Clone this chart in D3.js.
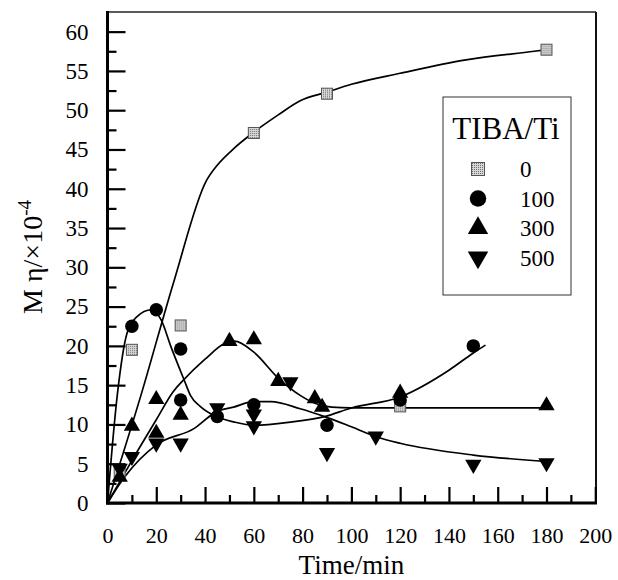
<!DOCTYPE html>
<html>
<head>
<meta charset="utf-8">
<script src="https://cdn.jsdelivr.net/npm/d3@7.9.0/dist/d3.min.js"></script>
<style>
  body { margin: 0; background: #fff; }
  svg { display: block; }
</style>
</head>
<body>
<svg id="chart" width="618" height="580"></svg>
<script>
// ----- data -----
const legendTitle = "TIBA/Ti";
const seriesNames = ["0", "100", "300", "500"];

// measured points
const s0x = [5, 10, 30, 60, 90, 120, 180];
const s0y = [4.0, 19.5, 22.6, 47.1, 52.1, 12.3, 57.7];
const s100x = [10, 20, 30, 30, 45, 60, 90, 120, 150];
const s100y = [22.5, 24.6, 19.6, 13.1, 11.0, 12.5, 9.9, 13.1, 20.0];
const s300x = [5, 10, 20, 20, 30, 50, 60, 70, 85, 88, 120, 180];
const s300y = [3.3, 9.8, 13.2, 8.9, 11.2, 20.6, 20.8, 15.5, 13.3, 12.2, 14.0, 12.4];
const s500x = [5, 10, 20, 30, 45, 60, 60, 75, 90, 110, 150, 180];
const s500y = [4.4, 5.9, 7.6, 7.6, 12.1, 11.3, 9.8, 15.4, 6.4, 8.5, 4.9, 5.1];

// fitted curves
const c0x = [0, 13.7, 27.4, 40.5, 45, 51, 60, 70, 79, 90, 100, 120, 147, 175, 180];
const c0y = [0, 13.7, 28.4, 41.0, 43.0, 44.9, 47.2, 49.4, 51.2, 52.3, 53.3, 54.7, 56.4, 57.5, 57.7];
const c100x = [0, 4, 8, 12, 18, 22, 26, 31.5, 34, 38, 44.6, 52, 60, 75, 89, 100, 120, 140, 150, 155];
const c100y = [0, 13.7, 21.6, 23.7, 24.6, 23.3, 19.9, 15.6, 13.7, 12.3, 11.0, 10.3, 9.9, 10.3, 11.0, 12.1, 13.5, 16.9, 19.1, 20.1];
const c300x = [0, 10, 20, 27, 31, 40, 48, 52, 60, 70, 79, 85, 92, 100, 120, 180];
const c300y = [0, 5.4, 10.6, 14.2, 15.6, 18.3, 20.3, 20.6, 19.2, 15.9, 13.7, 12.7, 12.2, 12.1, 12.1, 12.1];
const c500x = [0, 7, 20, 35.6, 44.6, 51.7, 60, 67, 79, 89, 100, 110.5, 120, 150, 180];
const c500y = [0, 3.3, 7.4, 9.5, 11.6, 12.2, 12.9, 12.9, 12.0, 11.0, 9.7, 8.4, 7.6, 6.1, 5.3];

const xTicks = d3.range(0, 201, 20);
const yTicks = d3.range(0, 61, 5);

// ----- layout -----
const L = 107.5, R = 596, T = 12, B = 503;
const FONT = "'Liberation Serif', 'Times New Roman', 'DejaVu Serif', serif";
const svg = d3.select("#chart");

const x = d3.scaleLinear().domain([0, 200.3]).range([L, R]);
const y = d3.scaleLinear().domain([0, 62.5]).range([B, T]);

// hatched grey fill for the square markers
const defs = svg.append("defs");
const pat = defs.append("pattern").attr("id", "hatch")
  .attr("width", 2).attr("height", 2).attr("patternUnits", "userSpaceOnUse");
pat.append("rect").attr("width", 2).attr("height", 2).attr("fill", "#d8d8d8");
pat.append("rect").attr("width", 1).attr("height", 1).attr("fill", "#707070");

// frame (top/right thinner)
svg.append("line").attr("x1", L).attr("x2", R).attr("y1", T).attr("y2", T)
  .attr("stroke", "#222").attr("stroke-width", 1.5);
svg.append("line").attr("x1", R).attr("x2", R).attr("y1", T).attr("y2", B)
  .attr("stroke", "#111").attr("stroke-width", 2);

// x axis: major + minor ticks pointing inward
const gx = svg.append("g").attr("transform", `translate(0,${B})`)
  .call(d3.axisBottom(x).tickValues(xTicks).tickSizeInner(-16).tickSizeOuter(0).tickPadding(24));
svg.append("g").attr("transform", `translate(0,${B})`)
  .call(d3.axisBottom(x).tickValues(d3.range(10, 200, 20)).tickSizeInner(-8).tickSizeOuter(0).tickFormat(""));

// y axis
const gy = svg.append("g").attr("transform", `translate(${L},0)`)
  .call(d3.axisLeft(y).tickValues(yTicks).tickSizeInner(-18).tickSizeOuter(0).tickPadding(19));
svg.append("g").attr("transform", `translate(${L},0)`)
  .call(d3.axisLeft(y).tickValues(d3.range(2.5, 61, 5)).tickSizeInner(-9).tickSizeOuter(0).tickFormat(""));

svg.selectAll(".domain").remove();
svg.selectAll("g").attr("font-family", null);
svg.selectAll(".tick line").attr("stroke", "#000").attr("stroke-width", 2.2);
gx.selectAll("text").attr("font-size", 22).attr("fill", "#000");
gy.selectAll("text").attr("font-size", 23).attr("fill", "#000");

// thick axis lines
svg.append("line").attr("x1", L).attr("x2", L).attr("y1", T - 1).attr("y2", B + 1.5)
  .attr("stroke", "#000").attr("stroke-width", 3);
svg.append("line").attr("x1", L - 1.5).attr("x2", R + 1).attr("y1", B).attr("y2", B)
  .attr("stroke", "#000").attr("stroke-width", 3);

// axis titles
svg.append("text").attr("x", x(100)).attr("y", 574)
  .attr("text-anchor", "middle").attr("font-size", 27).text("Time/min");

const yl = svg.append("text")
  .attr("transform", `translate(42,257) rotate(-90)`)
  .attr("text-anchor", "middle").attr("font-size", 28);
yl.append("tspan").text("M η/×10");
yl.append("tspan").attr("dy", -11).attr("font-size", 19).text("-4");

// ----- fitted curves -----
const line = d3.line().x(d => x(d[0])).y(d => y(d[1])).curve(d3.curveMonotoneX);
const curves = [[c0x, c0y], [c100x, c100y], [c300x, c300y], [c500x, c500y]];
svg.append("g").selectAll("path")
  .data(curves.map(([xs, ys]) => d3.zip(xs, ys)))
  .join("path")
  .attr("d", line)
  .attr("fill", "none")
  .attr("stroke", "#000")
  .attr("stroke-width", 1.7);

// ----- markers -----
function drawMarker(g, kind, size) {
  if (kind === "0") {
    g.append("rect").attr("x", -size / 2).attr("y", -size / 2)
      .attr("width", size).attr("height", size)
      .attr("fill", "url(#hatch)").attr("stroke", "#555").attr("stroke-width", 1);
  } else if (kind === "100") {
    g.append("circle").attr("r", size / 2).attr("fill", "#000");
  } else {
    const p = g.append("path")
      .attr("d", d3.symbol().type(d3.symbolTriangle).size(size * size * 0.45)())
      .attr("fill", "#000");
    if (kind === "500") p.attr("transform", "rotate(180)");
  }
}

const seriesPts = [[s0x, s0y], [s100x, s100y], [s300x, s300y], [s500x, s500y]];
const markerSize = { "0": 11, "100": 13.5, "300": 16, "500": 16 };
seriesPts.forEach(([xs, ys], i) => {
  const name = seriesNames[i];
  svg.append("g").selectAll("g")
    .data(d3.zip(xs, ys))
    .join("g")
    .attr("transform", d => `translate(${x(d[0])},${y(d[1])})`)
    .each(function () { drawMarker(d3.select(this), name, markerSize[name]); });
});

// ----- legend -----
const lg = svg.append("g");
lg.append("rect").attr("x", 443).attr("y", 97).attr("width", 128).attr("height", 198)
  .attr("fill", "#fff").attr("stroke", "#333").attr("stroke-width", 1);
lg.append("text").attr("x", 506).attr("y", 139).attr("text-anchor", "middle")
  .attr("font-size", 31).text(legendTitle);
const legendMarker = { "0": 13, "100": 16.5, "300": 20, "500": 20 };
seriesNames.forEach((name, i) => {
  const cy = 169 + i * 29.5;
  const g = lg.append("g").attr("transform", `translate(478,${cy})`);
  drawMarker(g, name, legendMarker[name]);
  lg.append("text").attr("x", 520).attr("y", cy + 8).attr("font-size", 23).text(name);
});

svg.selectAll("text").style("font-family", FONT);
</script>
</body>
</html>
